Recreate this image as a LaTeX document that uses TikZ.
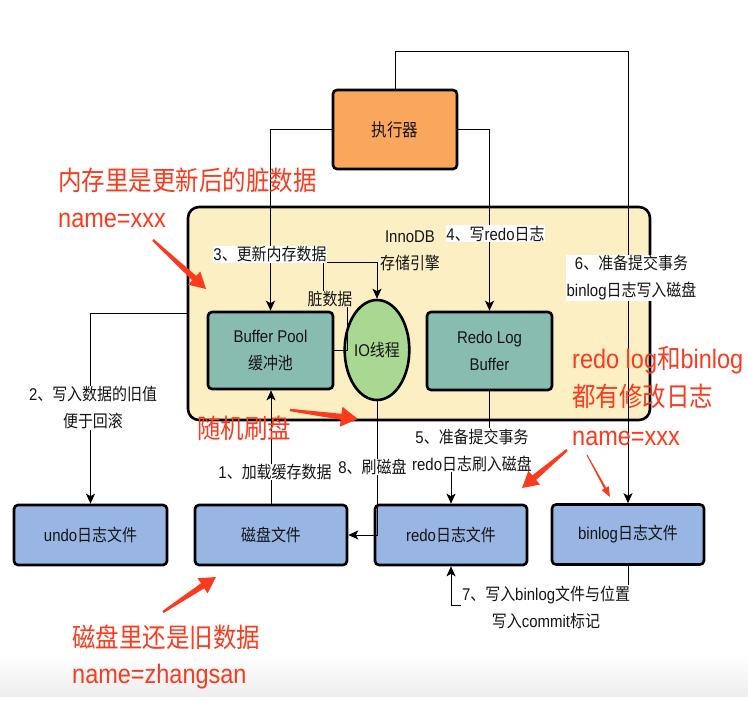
\documentclass[tikz,border=0pt]{standalone}
\usepackage{fontspec}
\setmainfont{Noto Sans CJK SC}[FakeStretch=0.88]
\newfontfamily\la{Liberation Sans}[FakeStretch=0.88]
\usetikzlibrary{arrows.meta,calc,shapes.geometric}
\definecolor{execC}{HTML}{FBA65D}
\definecolor{innoC}{HTML}{FDEFC4}
\definecolor{tealC}{HTML}{89BCB1}
\definecolor{greenC}{HTML}{A9D893}
\definecolor{blueC}{HTML}{98B5E3}
\definecolor{redC}{HTML}{FC3A1E}
\definecolor{txtC}{HTML}{151515}
\newcommand\redarr[6]{%
  \coordinate (rbase) at ($(#2)!#6!(#1)$);
  \fill[redC] ($(#1)!#3!90:(#2)$) -- ($(rbase)!#4!90:(#2)$) -- ($(rbase)!#5!90:(#2)$) -- (#2)
    -- ($(rbase)!#5!-90:(#2)$) -- ($(rbase)!#4!-90:(#2)$) -- ($(#1)!#3!-90:(#2)$) -- cycle;}
\begin{document}
\begin{tikzpicture}[x=1pt,y=-1pt,
  box/.style={draw=black, line width=2.6pt, rounded corners=4pt, text=txtC,
    font=\fontsize{17}{27}\selectfont, align=center, inner sep=0pt},
  conn/.style={draw=black, line width=1pt},
  arr/.style={conn, -{Stealth[length=10pt,width=9pt,inset=2.5pt]}},
  lbl/.style={fill=white, text=txtC, font=\fontsize{17}{27}\selectfont, align=center, inner sep=0.6pt},
  redtxt/.style={text=redC, font=\fontsize{26.7}{30}\selectfont, anchor=west, inner sep=0pt}]
\useasboundingbox (0,0) rectangle (748,714);
\shade[top color=white, bottom color=black!7] (0,655) rectangle (748,696);

% boxes
\node[box, fill=innoC, rounded corners=11pt, minimum width=462pt, minimum height=213pt] (inno) at (419,313.5) {};
\node[box, fill=execC, minimum width=124pt, minimum height=79pt, font=\fontsize{17.6}{20}\selectfont] (exec) at (395,129.5) {执行器};
\node[box, fill=tealC, minimum width=125pt, minimum height=77pt] (bp) at (270.5,350.5) {{\la Buffer Pool}\\缓冲池};
\node[box, ellipse, rounded corners=0pt, fill=greenC, minimum width=60pt, minimum height=100pt] (io) at (377,350) {{\la IO}线程};
\node[box, fill=tealC, minimum width=125pt, minimum height=78pt] (rlb) at (489.5,351) {{\la Redo Log}\\{\la Buffer}};

% connectors
\coordinate (topc) at (395,52);
\coordinate (c7) at (628,605);
\draw[arr] (exec.west) -| (bp.north);
\draw[arr] (exec.east) -| (rlb.north);
\draw[arr] (bp.east) -- ++(13,0) -- ++(0,-51.5) -- ++(-24,0) -- ++(0,-36) -| (io.north);

\node[box, fill=blueC, minimum width=153pt, minimum height=60pt] (undo) at (90.5,535) {{\la undo}日志文件};
\node[box, fill=blueC, minimum width=152pt, minimum height=60pt] (disk) at (271,535) {磁盘文件};
\node[box, fill=blueC, minimum width=152pt, minimum height=60pt] (redo) at (451,535) {{\la redo}日志文件};
\node[box, fill=blueC, minimum width=152pt, minimum height=60pt] (binlog) at (628,534.5) {{\la binlog}日志文件};

\draw[arr] (io.south) |- (disk.east);
\draw[arr] (exec.north) -- (topc) -| (binlog.north);
\draw[arr] (inno.west) -| (undo.north);
\draw[arr] (disk.north) -- (disk.north |- bp.south);
\draw[arr] (rlb.south) -- ++(0,60) -| (redo.north);
\draw[arr] (binlog.south) -- (c7) -| (redo.south);

% labels
\node[lbl] (l3) at (270,254.5) {{\la 3}、更新内存数据};
\node[lbl, fill=innoC] (ld) at (330,299) {脏数据};
\node[lbl, fill=none] (linno) at (410,251) {{\la InnoDB}\\存储引擎};
\node[lbl] (l4) at (495.5,233.5) {{\la 4}、写{\la redo}日志};
\node[lbl] (l6) at (631.5,278) {{\la 6}、准备提交事务\\{\la binlog}日志写入磁盘};
\node[lbl] (l2) at (93,408) {{\la 2}、写入数据的旧值\\便于回滚};
\node[lbl] (l1) at (275,472) {{\la 1}、加载缓存数据};
\node[lbl] (l8) at (372.5,467) {{\la 8}、刷磁盘};
\node[lbl] (l5) at (472,450) {{\la 5}、准备提交事务\\{\la redo}日志刷入磁盘};
\node[lbl] (l7) at (546,607) {{\la 7}、写入{\la binlog}文件与位置\\写入{\la commit}标记};

% red annotations
\node[redtxt] (r1) at (58,180) {内存里是更新后的脏数据};
\node[redtxt] (r1b) at (58,220) {{\la name=xxx}};
\node[redtxt] (r2) at (197,428) {随机刷盘};
\node[redtxt] (r3) at (572,360) {{\la redo log}和{\la binlog}};
\node[redtxt] (r3b) at (572,396) {都有修改日志};
\node[redtxt] (r3c) at (572,438) {{\la name=xxx}};
\node[redtxt] (r4) at (72,637) {磁盘里还是旧数据};
\node[redtxt] (r4b) at (72,677) {{\la name=zhangsan}};

\coordinate (a1s) at (153,240); \coordinate (a1e) at (206,289);
\coordinate (a2s) at (290,410); \coordinate (a2e) at (358,419);
\coordinate (a3s) at (567,450); \coordinate (a3e) at (522,488);
\coordinate (a4s) at (587,455); \coordinate (a4e) at (610,497);
\coordinate (a5s) at (163,612); \coordinate (a5e) at (216,577);
\redarr{a1s}{a1e}{1.2pt}{3pt}{9pt}{16pt}
\redarr{a2s}{a2e}{1.2pt}{3pt}{10pt}{17pt}
\redarr{a3s}{a3e}{1.2pt}{3pt}{9pt}{16pt}
\redarr{a4s}{a4e}{0.5pt}{1.1pt}{4pt}{10pt}
\redarr{a5s}{a5e}{1.2pt}{3pt}{9pt}{16pt}
\end{tikzpicture}
\end{document}
